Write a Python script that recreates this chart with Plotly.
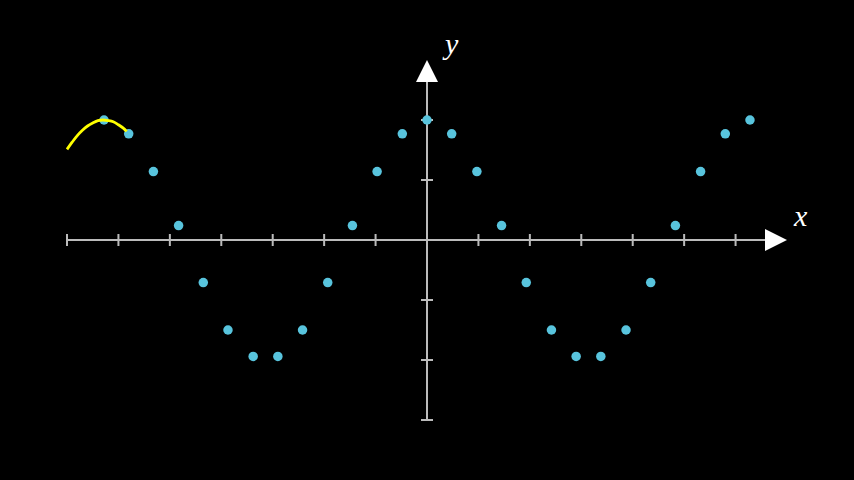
import plotly.graph_objects as go

# ---- data ----
dot_x = [-6.28, -5.80, -5.32, -4.83, -4.35, -3.87, -3.38, -2.90, -2.42, -1.93, -1.45, -0.97, -0.48,
         0.00, 0.48, 0.97, 1.45, 1.93, 2.42, 2.90, 3.38, 3.87, 4.35, 4.83, 5.32, 5.80, 6.28]
dot_y = [2.00, 1.77, 1.14, 0.24, -0.71, -1.50, -1.94, -1.94, -1.50, -0.71, 0.24, 1.14, 1.77,
         2.00, 1.77, 1.14, 0.24, -0.71, -1.50, -1.94, -1.94, -1.50, -0.71, 0.24, 1.14, 1.77, 2.00]

curve_x = [-7.0, -6.9, -6.8, -6.7, -6.6, -6.5, -6.4, -6.3, -6.2, -6.1, -6.0, -5.9, -5.84]
curve_y = [1.51, 1.63, 1.74, 1.83, 1.90, 1.95, 1.99, 2.00, 1.99, 1.97, 1.92, 1.86, 1.81]

x_ticks = [-7, -6, -5, -4, -3, -2, -1, 1, 2, 3, 4, 5, 6]
y_ticks = [-3, -2, -1, 1, 2]
x_min, x_max = -7, 7
y_min, y_max = -3, 3

# ---- layout constants ----
W, H = 854, 480
px_per_x = 12 / 14 * 60
px_per_y = 60
XR = (W / 2) / px_per_x
YR = (H / 2) / px_per_y
axis_col = "#bbbbbb"
tick_half_px = 6
tip_len_px = 22
tip_half_px = 11

fig = go.Figure()

shapes = []
line_style = dict(color=axis_col, width=2)
shapes.append(dict(type="line", xref="x", yref="y", x0=x_min, y0=0,
                   x1=x_max - tip_len_px / px_per_x, y1=0, line=line_style, layer="below"))
shapes.append(dict(type="line", xref="x", yref="y", x0=0, y0=y_min,
                   x1=0, y1=y_max - tip_len_px / px_per_y, line=line_style, layer="below"))
th_y = tick_half_px / px_per_y
th_x = tick_half_px / px_per_x
for t in x_ticks:
    shapes.append(dict(type="line", xref="x", yref="y", x0=t, y0=-th_y, x1=t, y1=th_y,
                       line=line_style, layer="below"))
for t in y_ticks + [y_min]:
    shapes.append(dict(type="line", xref="x", yref="y", x0=-th_x, y0=t, x1=th_x, y1=t,
                       line=line_style, layer="below"))
bx = x_max - tip_len_px / px_per_x
hy = tip_half_px / px_per_y
shapes.append(dict(type="path", xref="x", yref="y",
                   path=f"M {bx} {-hy} L {x_max} 0 L {bx} {hy} Z",
                   fillcolor="white", line=dict(color="white", width=0), layer="below"))
by = y_max - tip_len_px / px_per_y
hx = tip_half_px / px_per_x
shapes.append(dict(type="path", xref="x", yref="y",
                   path=f"M {-hx} {by} L 0 {y_max} L {hx} {by} Z",
                   fillcolor="white", line=dict(color="white", width=0), layer="below"))

fig.add_trace(go.Scatter(x=dot_x, y=dot_y, mode="markers",
                         marker=dict(size=9.5, color="#58C4DD", line=dict(width=0)),
                         hoverinfo="skip"))
fig.add_trace(go.Scatter(x=curve_x, y=curve_y, mode="lines",
                         line=dict(color="#FFFF00", width=2.8, shape="spline"),
                         hoverinfo="skip"))

label_font = dict(family="Liberation Serif", size=30, color="white")
annotations = [
    dict(x=x_max + 13 / px_per_x, y=25 / px_per_y, xref="x", yref="y", text="<i>x</i>",
         showarrow=False, font=label_font, xanchor="center", yanchor="middle"),
    dict(x=23 / px_per_x, y=y_max + 17 / px_per_y, xref="x", yref="y", text="<i>y</i>",
         showarrow=False, font=label_font, xanchor="center", yanchor="middle"),
]

fig.update_layout(
    width=W, height=H, margin=dict(l=0, r=0, t=0, b=0),
    paper_bgcolor="black", plot_bgcolor="black", showlegend=False, hovermode=False,
    xaxis=dict(range=[-XR, XR], visible=False, fixedrange=True),
    yaxis=dict(range=[-YR, YR], visible=False, fixedrange=True),
    shapes=shapes, annotations=annotations,
)
fig.write_html("out.html", config={"displayModeBar": False, "staticPlot": True},
               post_script="document.body.style.margin='0';document.body.style.background='black';document.body.style.overflow='hidden';")
